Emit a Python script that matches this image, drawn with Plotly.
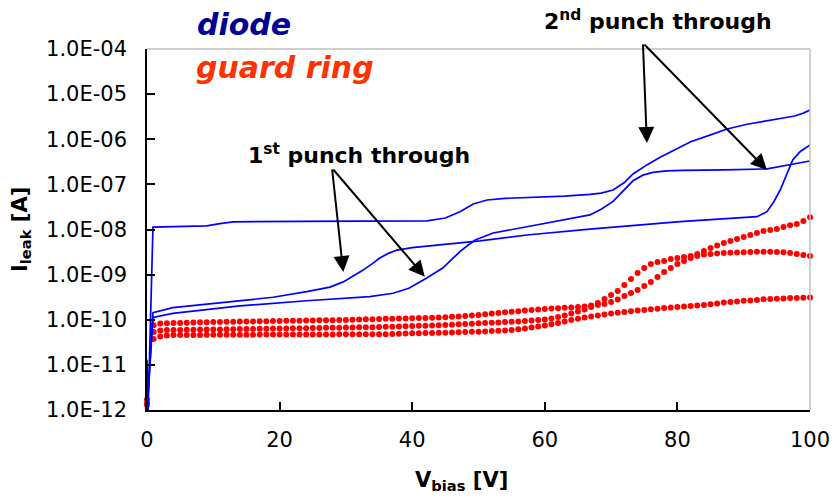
import plotly.graph_objects as go

# ---------------- data ----------------
bias_v = list(range(101))

guard_1 = [1.7e-12, 7.6e-11, 8.25e-11, 8.4e-11, 8.45e-11, 8.5e-11, 8.6e-11, 8.7e-11, 8.75e-11, 8.8e-11,
           8.9e-11, 8.9e-11, 9.0e-11, 9.05e-11, 9.1e-11, 9.15e-11, 9.2e-11, 9.25e-11, 9.3e-11, 9.35e-11,
           9.4e-11, 9.45e-11, 9.5e-11, 9.55e-11, 9.6e-11, 9.65e-11, 9.7e-11, 9.75e-11, 9.8e-11, 9.85e-11,
           9.9e-11, 1.0e-10, 1.01e-10, 1.02e-10, 1.03e-10, 1.04e-10, 1.05e-10, 1.055e-10, 1.06e-10, 1.065e-10,
           1.08e-10, 1.09e-10, 1.1e-10, 1.11e-10, 1.12e-10, 1.13e-10, 1.16e-10, 1.18e-10, 1.21e-10, 1.24e-10,
           1.27e-10, 1.32e-10, 1.37e-10, 1.41e-10, 1.46e-10, 1.51e-10, 1.55e-10, 1.6e-10, 1.64e-10, 1.69e-10,
           1.73e-10, 1.77e-10, 1.8e-10, 1.84e-10, 1.88e-10, 1.91e-10, 1.97e-10, 2.07e-10, 2.35e-10, 2.88e-10,
           3.53e-10, 4.33e-10, 5.87e-10, 7.97e-10, 1.08e-9, 1.4e-9, 1.71e-9, 1.9e-9, 2.0e-9, 2.21e-9,
           2.33e-9, 2.45e-9, 2.58e-9, 2.86e-9, 3.33e-9, 3.88e-9, 4.4e-9, 5.01e-9, 5.54e-9, 6.14e-9,
           6.8e-9, 7.53e-9, 8.33e-9, 9.23e-9, 9.71e-9, 1.02e-8, 1.13e-8, 1.25e-8, 1.32e-8, 1.54e-8,
           1.88e-8]

guard_2 = [1.29e-12, 5.34e-11, 5.77e-11, 5.91e-11, 5.91e-11, 5.95e-11, 5.98e-11, 6.0e-11, 6.05e-11, 6.07e-11,
           6.07e-11, 6.1e-11, 6.15e-11, 6.18e-11, 6.2e-11, 6.22e-11, 6.25e-11, 6.3e-11, 6.33e-11, 6.37e-11,
           6.4e-11, 6.43e-11, 6.47e-11, 6.5e-11, 6.51e-11, 6.54e-11, 6.57e-11, 6.61e-11, 6.64e-11, 6.68e-11,
           6.71e-11, 6.75e-11, 6.78e-11, 6.82e-11, 6.85e-11, 6.89e-11, 6.96e-11, 7.03e-11, 7.1e-11, 7.18e-11,
           7.25e-11, 7.33e-11, 7.4e-11, 7.48e-11, 7.55e-11, 7.62e-11, 7.78e-11, 7.95e-11, 8.1e-11, 8.2e-11,
           8.35e-11, 8.44e-11, 8.6e-11, 8.7e-11, 8.88e-11, 9.05e-11, 9.2e-11, 9.35e-11, 9.6e-11, 9.85e-11,
           1.01e-10, 1.07e-10, 1.15e-10, 1.24e-10, 1.37e-10, 1.52e-10, 1.69e-10, 1.91e-10, 2.12e-10, 2.23e-10,
           2.47e-10, 2.8e-10, 3.35e-10, 3.9e-10, 4.55e-10, 5.58e-10, 6.84e-10, 8.83e-10, 1.14e-9, 1.4e-9,
           1.71e-9, 2.0e-9, 2.33e-9, 2.58e-9, 2.78e-9, 2.86e-9, 2.94e-9, 3.01e-9, 3.05e-9, 3.1e-9,
           3.13e-9, 3.16e-9, 3.2e-9, 3.22e-9, 3.22e-9, 3.16e-9, 3.13e-9, 3.01e-9, 2.86e-9, 2.71e-9,
           2.58e-9]

guard_3 = [1.43e-12, 3.74e-11, 4.25e-11, 4.47e-11, 4.58e-11, 4.58e-11, 4.58e-11, 4.6e-11, 4.6e-11, 4.63e-11,
           4.63e-11, 4.65e-11, 4.65e-11, 4.65e-11, 4.68e-11, 4.68e-11, 4.68e-11, 4.7e-11, 4.7e-11, 4.7e-11,
           4.7e-11, 4.7e-11, 4.7e-11, 4.72e-11, 4.72e-11, 4.72e-11, 4.73e-11, 4.73e-11, 4.74e-11, 4.75e-11,
           4.75e-11, 4.76e-11, 4.77e-11, 4.77e-11, 4.78e-11, 4.78e-11, 4.8e-11, 4.85e-11, 4.9e-11, 4.96e-11,
           5.01e-11, 5.04e-11, 5.07e-11, 5.09e-11, 5.12e-11, 5.18e-11, 5.23e-11, 5.28e-11, 5.34e-11, 5.39e-11,
           5.44e-11, 5.52e-11, 5.6e-11, 5.68e-11, 5.8e-11, 5.91e-11, 6.14e-11, 6.4e-11, 6.71e-11, 7.07e-11,
           7.46e-11, 7.92e-11, 8.44e-11, 9.15e-11, 9.87e-11, 1.05e-10, 1.12e-10, 1.18e-10, 1.24e-10, 1.31e-10,
           1.37e-10, 1.43e-10, 1.48e-10, 1.55e-10, 1.6e-10, 1.64e-10, 1.7e-10, 1.76e-10, 1.82e-10, 1.87e-10,
           1.91e-10, 1.97e-10, 2.01e-10, 2.07e-10, 2.12e-10, 2.21e-10, 2.3e-10, 2.4e-10, 2.47e-10, 2.55e-10,
           2.62e-10, 2.68e-10, 2.75e-10, 2.83e-10, 2.87e-10, 2.93e-10, 2.97e-10, 3.02e-10, 3.05e-10, 3.08e-10,
           3.1e-10]

diode_a_v = [0, 0.15, 0.9, 9.0, 11.0, 13.0, 23.0, 42.2, 45.0, 47.2, 49.2, 51.3, 54.0, 57.3, 63.0,
             66.8, 68.5, 70.3, 72.0, 73.3, 75.4, 77.4, 79.5, 82.0, 85.0, 87.5, 90.5, 93.5, 96.0,
             97.7, 99.0, 100]
diode_a_i = [1.3e-11, 8e-13, 1.13e-8, 1.2e-8, 1.35e-8, 1.48e-8, 1.51e-8, 1.55e-8, 1.8e-8, 2.48e-8,
             3.67e-8, 4.5e-8, 4.9e-8, 5.07e-8, 5.5e-8, 6.0e-8, 6.4e-8, 7.5e-8, 1.1e-7, 1.7e-7,
             2.7e-7, 4.0e-7, 5.8e-7, 8.8e-7, 1.25e-6, 1.69e-6, 2.15e-6, 2.6e-6, 2.95e-6, 3.27e-6,
             3.8e-6, 4.45e-6]

diode_b_v = [0, 0.9, 3.9, 12.5, 19.0, 24.1, 27.6, 29.6, 31.0, 32.6, 34.0, 35.1, 36.5, 37.7, 40.0,
             42.7, 50.2, 57.3, 66.8, 80.4, 92.0, 93.5, 94.5, 95.5, 96.5, 97.4, 98.5, 100]
diode_b_i = [9e-13, 1.44e-10, 1.85e-10, 2.5e-10, 3.15e-10, 4.2e-10, 5.3e-10, 6.9e-10, 9.0e-10,
             1.26e-9, 1.75e-9, 2.34e-9, 3.0e-9, 3.5e-9, 3.95e-9, 4.3e-9, 5.6e-9, 7.55e-9, 1.02e-8,
             1.49e-8, 1.92e-8, 2.48e-8, 4.0e-8, 7.5e-8, 1.6e-7, 3.47e-7, 5.3e-7, 7.5e-7]

diode_c_v = [0, 0.9, 3.9, 14.0, 24.1, 33.6, 37.1, 39.5, 42.2, 44.6, 46.0, 47.2, 48.5, 49.5, 52.2,
             54.5, 57.3, 66.8, 68.5, 70.3, 72.0, 73.3, 74.8, 76.3, 78.4, 80.8, 87.0, 93.5, 100]
diode_c_i = [9e-13, 1.13e-10, 1.39e-10, 2.02e-10, 2.64e-10, 3.24e-10, 3.86e-10, 5.0e-10, 8.4e-10,
             1.4e-9, 2.2e-9, 3.22e-9, 4.6e-9, 5.85e-9, 8.36e-9, 9.8e-9, 1.15e-8, 2.1e-8, 2.8e-8,
             4.2e-8, 7.5e-8, 1.2e-7, 1.6e-7, 1.85e-7, 2.0e-7, 2.05e-7, 2.1e-7, 2.2e-7, 3.3e-7]

x_ticks = [0, 20, 40, 60, 80, 100]
y_tick_vals = [1e-12, 1e-11, 1e-10, 1e-9, 1e-8, 1e-7, 1e-6, 1e-5, 1e-4]
y_tick_text = ["1.0E-12", "1.0E-11", "1.0E-10", "1.0E-09", "1.0E-08",
               "1.0E-07", "1.0E-06", "1.0E-05", "1.0E-04"]

# ---------------- figure ----------------
FONT = "DejaVu Sans"
fig = go.Figure()

for g in (guard_1, guard_2, guard_3):
    fig.add_trace(go.Scatter(x=bias_v, y=g, mode="markers", cliponaxis=False,
                             marker=dict(color="#FF0000", size=6, line=dict(width=0)),
                             showlegend=False, hoverinfo="skip"))

for xv, yv in ((diode_a_v, diode_a_i), (diode_b_v, diode_b_i), (diode_c_v, diode_c_i)):
    fig.add_trace(go.Scatter(x=xv, y=yv, mode="lines",
                             line=dict(color="#0000FF", width=1.7),
                             showlegend=False, hoverinfo="skip"))

axis_common = dict(showgrid=False, zeroline=False, showline=True, linecolor="black",
                   linewidth=1.5, ticks="inside", ticklen=8, tickwidth=1.5, tickcolor="black",
                   automargin=False,
                   tickfont=dict(family=FONT, size=21, color="black"))

fig.update_layout(
    width=834, height=499,
    margin=dict(l=147, r=24, t=49, b=89),
    paper_bgcolor="white", plot_bgcolor="white",
    xaxis=dict(range=[0, 100], tickvals=x_ticks, ticklabelstandoff=10, **axis_common),
    yaxis=dict(type="log", range=[-12, -4], tickvals=y_tick_vals, ticktext=y_tick_text,
               ticklabelstandoff=14, **axis_common),
    shapes=[
        dict(type="line", xref="paper", yref="paper", x0=0, x1=1, y0=1, y1=1,
             line=dict(color="#BFBFBF", width=1.5)),
        dict(type="line", xref="paper", yref="paper", x0=1, x1=1, y0=0, y1=1,
             line=dict(color="#BFBFBF", width=1.5)),
    ],
)

ann = []
ann.append(dict(text="<b><i>diode</i></b>", xref="paper", yref="paper", x=0.0724, y=1.069,
                xanchor="left", yanchor="middle", showarrow=False,
                font=dict(family=FONT, size=30, color="#000099")))
ann.append(dict(text="<b><i>guard ring</i></b>", xref="paper", yref="paper", x=0.0709, y=0.949,
                xanchor="left", yanchor="middle", showarrow=False,
                font=dict(family=FONT, size=30, color="#FF3300")))
ann.append(dict(text="<b>2<sup>nd</sup> punch through</b>", xref="paper", yref="paper", x=0.771, y=1.079,
                xanchor="center", yanchor="middle", showarrow=False,
                font=dict(family=FONT, size=22, color="black")))
ann.append(dict(text="<b>1<sup>st</sup> punch through</b>", xref="paper", yref="paper", x=0.32, y=0.708,
                xanchor="center", yanchor="middle", showarrow=False,
                font=dict(family=FONT, size=22, color="black")))
ann.append(dict(text="<b>I<sub>leak</sub> [A]</b>", xref="paper", yref="paper", x=-0.19, y=0.4986,
                xanchor="center", yanchor="middle", textangle=-90, showarrow=False,
                font=dict(family=FONT, size=21, color="black")))
ann.append(dict(text="<b>V<sub>bias</sub> [V]</b>", xref="paper", yref="paper", x=0.475, y=-0.197,
                xanchor="center", yanchor="middle", showarrow=False,
                font=dict(family=FONT, size=21, color="black")))

# arrows (tip and tail in data coords; log axis uses log10 units)
arrows = [
    (75.4, -6.083, 74.8, -3.867),
    (93.5, -6.681, 74.8, -3.867),
    (29.6, -8.942, 27.9, -6.637),
    (41.9, -9.047, 27.9, -6.637),
]
for x, y, ax, ay in arrows:
    ann.append(dict(text="", x=x, y=y, xref="x", yref="y", ax=ax, ay=ay, axref="x", ayref="y",
                    showarrow=True, arrowhead=2, arrowsize=1.6, arrowwidth=2, arrowcolor="black"))

fig.update_layout(annotations=ann)
fig.write_html("out.html")
